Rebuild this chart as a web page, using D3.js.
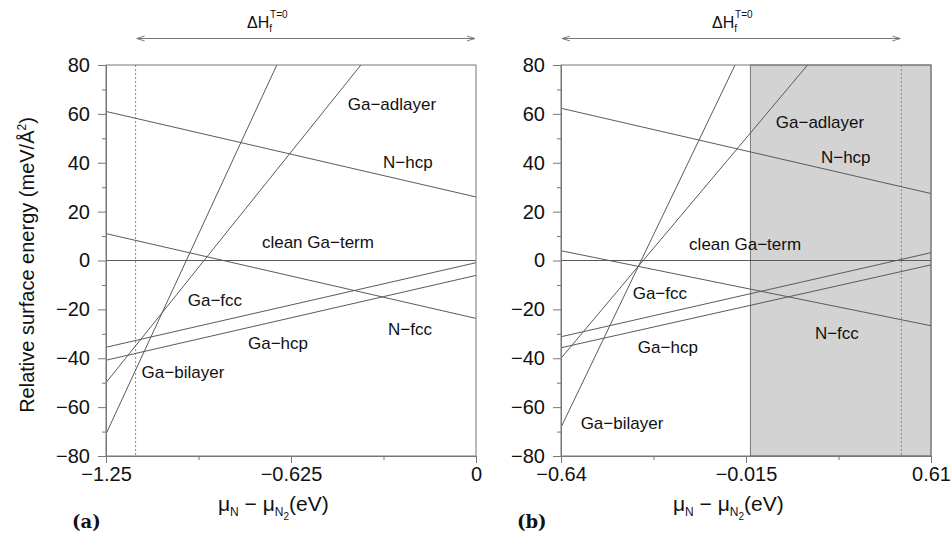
<!DOCTYPE html>
<html>
<head>
<meta charset="utf-8">
<script src="https://cdn.jsdelivr.net/npm/d3@7"></script>
<style>
  body { margin: 0; background: #fff; }
  svg { font-family: "Liberation Sans", Arial, sans-serif; }
</style>
</head>
<body>
<svg width="951" height="535"></svg>
<script>
// surfaces, same order in both panels
var surfaces = ["clean Ga\u2212term", "N\u2212hcp", "N\u2212fcc", "Ga\u2212fcc", "Ga\u2212hcp", "Ga\u2212adlayer", "Ga\u2212bilayer"];

// panel (a): line end points [mu, energy]
var aStart = [[-1.25, 0], [-1.25, 61], [-1.25, 11], [-1.25, -35.5], [-1.25, -40.8], [-1.25, -50], [-1.25, -71]];
var aEnd = [[0, 0], [0, 26], [0, -23.7], [0, -0.9], [0, -6.1], [-0.389, 80], [-0.673, 80]];
var aLabels = [[-0.534, 7.2], [-0.23, 40.3], [-0.223, -28.4], [-0.882, -16.2], [-0.669, -33.8], [-0.284, 64.0], [-0.99, -46.0]];

// panel (b)
var bStart = [[-0.64, 0], [-0.64, 62.3], [-0.64, 4], [-0.64, -31.2], [-0.64, -35.7], [-0.64, -40], [-0.64, -68.3]];
var bEnd = [[0.61, 0], [0.61, 27.4], [0.61, -26.7], [0.61, 3.2], [0.61, -1.8], [0.193, 80], [-0.052, 80]];
var bLabels = [[-0.018, 6.4], [0.322, 42.1], [0.292, -29.7], [-0.306, -13.7], [-0.279, -35.4], [0.235, 56.3], [-0.434, -66.5]];

var aTicks = [-1.25, -0.625, 0];
var aTickText = ["\u22121.25", "\u22120.625", "0"];
var aMinor = [-0.9375, -0.3125];
var bTicks = [-0.64, -0.015, 0.61];
var bTickText = ["\u22120.64", "\u22120.015", "0.61"];
var bMinor = [-0.3275, 0.2975];

var yTicks = [-80, -60, -40, -20, 0, 20, 40, 60, 80];
var yMinor = [-70, -50, -30, -10, 10, 30, 50, 70];

var deltaH = -1.15;       // formation enthalpy (range shown by arrow)
var aRange = [-1.25, 0];
var bRange = [-0.64, 0.61];
var bShade = [0, 0.61];

var svg = d3.select("svg");
var lineColor = "#5a5a5a";
var frameColor = "#777";

var defs = svg.append("defs");
defs.append("marker").attr("id", "arr").attr("viewBox", "0 0 10 10")
  .attr("refX", 10).attr("refY", 5).attr("markerWidth", 8).attr("markerHeight", 8)
  .attr("orient", "auto-start-reverse")
  .append("path").attr("d", "M0,2 L10,5 L0,8").attr("fill", "none")
  .attr("stroke", "#777").attr("stroke-width", 1.2);

function panel(opt) {
  var x = d3.scaleLinear().domain(opt.domain).range([opt.left, opt.left + 370]);
  var y = d3.scaleLinear().domain([-80, 80]).range([456, 65]);
  var g = svg.append("g");

  defs.append("clipPath").attr("id", opt.id + "clip")
    .append("rect").attr("x", x.range()[0]).attr("y", 65)
    .attr("width", 370).attr("height", 391);

  if (opt.shade) {
    g.append("rect")
      .attr("x", x(opt.shade[0])).attr("y", y(80))
      .attr("width", x(opt.shade[1]) - x(opt.shade[0])).attr("height", y(-80) - y(80))
      .attr("fill", "#d3d3d3").attr("stroke", frameColor).attr("stroke-width", 1);
  }

  // dotted limit
  g.append("line").attr("x1", x(opt.limit)).attr("x2", x(opt.limit))
    .attr("y1", y(80)).attr("y2", y(-80))
    .attr("stroke", "#888").attr("stroke-dasharray", "2,2").attr("stroke-width", 1);

  var lines = g.append("g").attr("clip-path", "url(#" + opt.id + "clip)");
  surfaces.forEach(function (s, i) {
    lines.append("line")
      .attr("x1", x(opt.start[i][0])).attr("y1", y(opt.start[i][1]))
      .attr("x2", x(opt.end[i][0])).attr("y2", y(opt.end[i][1]))
      .attr("stroke", lineColor).attr("stroke-width", 1);
  });

  surfaces.forEach(function (s, i) {
    g.append("text").attr("x", x(opt.labels[i][0])).attr("y", y(opt.labels[i][1]))
      .attr("text-anchor", "middle").attr("dominant-baseline", "central")
      .attr("font-size", 17).attr("fill", "#111").text(s);
  });

  // frame
  g.append("rect").attr("x", x.range()[0]).attr("y", y(80))
    .attr("width", 370).attr("height", y(-80) - y(80))
    .attr("fill", "none").attr("stroke", frameColor).attr("stroke-width", 1);

  // y axis
  var ya = g.append("g").attr("transform", "translate(" + x.range()[0] + ",0)")
    .call(d3.axisLeft(y).tickValues(yTicks).tickSize(8).tickPadding(8)
      .tickFormat(function (d) { return d < 0 ? "\u2212" + (-d) : d; }));
  var ym = g.append("g").attr("transform", "translate(" + x.range()[0] + ",0)")
    .call(d3.axisLeft(y).tickValues(yMinor).tickSize(4).tickFormat(""));

  var xa = g.append("g").attr("transform", "translate(0," + y(-80) + ")")
    .call(d3.axisBottom(x).tickValues(opt.ticks).tickSize(7).tickPadding(4)
      .tickFormat(function (d, i) { return opt.tickText[i]; }));
  var xm = g.append("g").attr("transform", "translate(0," + y(-80) + ")")
    .call(d3.axisBottom(x).tickValues(opt.minor).tickSize(4).tickFormat(""));

  [ya, ym, xa, xm].forEach(function (a) {
    a.select(".domain").attr("stroke", frameColor);
    a.selectAll(".tick line").attr("stroke", frameColor);
    a.selectAll("text").attr("font-size", 20).attr("fill", "#111")
      .attr("font-family", "Liberation Sans, Arial, sans-serif");
  });

  // x title
  var t = g.append("text").attr("x", x.range()[0] + 112).attr("y", 511)
    .attr("font-size", 21).attr("fill", "#111");
  t.append("tspan").text("\u03bc");
  t.append("tspan").attr("font-size", 12).attr("dy", 5).text("N");
  t.append("tspan").attr("dy", -5).text(" \u2212 \u03bc");
  t.append("tspan").attr("font-size", 12).attr("dy", 5).text("N");
  t.append("tspan").attr("font-size", 10).attr("dy", 4).text("2");
  t.append("tspan").attr("dy", -9).text("(eV)");

  // formation enthalpy arrow
  var a0 = opt.arrow[0], a1 = opt.arrow[1];
  g.append("line").attr("x1", x(a0) + 1).attr("x2", x(a1) - 1)
    .attr("y1", 38.5).attr("y2", 38.5)
    .attr("stroke", "#777").attr("stroke-width", 1)
    .attr("marker-start", "url(#arr)").attr("marker-end", "url(#arr)");
  var h = g.append("text").attr("x", opt.left + opt.hx).attr("y", 28)
    .attr("font-size", 16).attr("fill", "#111");
  h.append("tspan").text("\u0394H");
  h.append("tspan").attr("font-size", 10).attr("dy", 4).text("f");
  h.append("tspan").attr("font-size", 10).attr("dy", -14).attr("dx", -2).text("T=0");

  svg.append("text").attr("x", opt.tagX).attr("y", 528)
    .attr("font-family", "DejaVu Serif, serif").attr("font-weight", "bold")
    .attr("font-size", 18).attr("fill", "#111").text(opt.tag);
}

panel({ id: "a", left: 106, domain: aRange, start: aStart, end: aEnd, labels: aLabels,
  ticks: aTicks, tickText: aTickText, minor: aMinor, limit: aRange[1] + deltaH,
  arrow: [aRange[1] + deltaH, aRange[1]], hx: 141, tag: "(a)", tagX: 72 });
panel({ id: "b", left: 561, domain: bRange, start: bStart, end: bEnd, labels: bLabels,
  ticks: bTicks, tickText: bTickText, minor: bMinor, limit: bRange[0] - deltaH,
  arrow: [bRange[0], bRange[0] - deltaH], hx: 151, shade: bShade, tag: "(b)", tagX: 517 });

// y title
svg.append("text").attr("transform", "translate(34,265) rotate(-90)")
  .attr("text-anchor", "middle").attr("font-size", 20).attr("fill", "#111")
  .text("Relative surface energy (meV/\u00c5")
  .append("tspan").attr("font-size", 12).attr("dy", -8).text("2")
  .select(function () { return this.parentNode; })
  .append("tspan").attr("font-size", 20).attr("dy", 8).text(")");
</script>
</body>
</html>
